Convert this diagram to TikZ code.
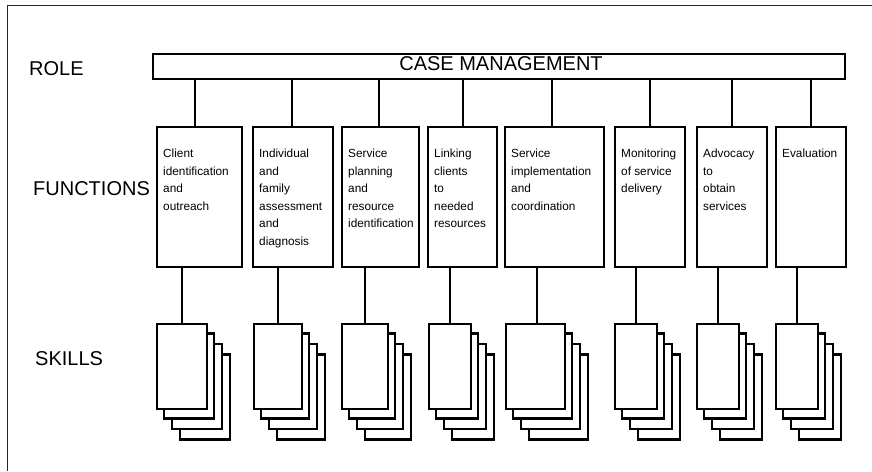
\documentclass[tikz,border=0pt]{standalone}
\usepackage{fontspec}
\setmainfont{Liberation Sans}
\begin{document}
\begin{tikzpicture}[x=1pt,y=-1pt]
\tikzset{
  frame/.style={line width=1pt, draw=black!85},
  rolebar/.style={draw, line width=2pt, minimum width=692pt, minimum height=25pt, inner sep=0pt, anchor=north west},
  funcbox/.style={draw, line width=2.2pt, minimum height=140pt, inner sep=0pt, anchor=north west},
  ftext/.style={anchor=north west, inner sep=0pt, align=left, font=\fontsize{11.8}{17.5}\selectfont},
  biglabel/.style={anchor=base west, inner sep=0pt, font=\fontsize{20}{24}\selectfont},
  card/.style={draw, fill=white, line width=2.1pt},
  cardfront/.style={card, minimum height=85pt, inner sep=0pt, anchor=north west},
  link/.style={line width=1.7pt},
}
\useasboundingbox (0,0) rectangle (872,471);
\draw[frame] (7,471) -- (7,5) -- (872,5);

\node[biglabel] (lrole) at (29,75) {ROLE};
\node[biglabel] (lfun) at (33,195) {FUNCTIONS};
\node[biglabel] (lsk) at (35,365) {SKILLS};

\node[rolebar] (role) at (152,53) {};
\node[biglabel, anchor=base] (cm) at (501,70) {CASE MANAGEMENT};

\foreach \i/\L/\R/\dx/\txt in {
 1/156/241/-4.5/{Client\\identification\\and\\outreach},
 2/252/332/-1/{Individual\\and\\family\\assessment\\and\\diagnosis},
 3/341/418/-1.5/{Service\\planning\\and\\resource\\identification},
 4/427/496/0.5/{Linking\\clients\\to\\needed\\resources},
 5/504/603/-2.5/{Service\\implementation\\and\\coordination},
 6/614/684/0/{Monitoring\\of service\\delivery},
 7/696/766/0/{Advocacy\\to\\obtain\\services},
 8/775/845/0/{Evaluation}}
{
 \pgfmathsetmacro\W{\R-\L}
 \node[funcbox, minimum width=\W pt] (f\i) at (\L,126) {};
 \node[ftext] (t\i) at ([xshift=7pt,yshift=-23pt]f\i.north west) {\txt};
 \draw[link] ([xshift=\dx pt]f\i.north) -- ([xshift=\dx pt]f\i.north |- role.south);
}

\foreach \i/\L/\W/\bx in {1/156/50/0, 2/253/48/0, 3/341/46/0, 4/428/42/0, 5/505/59/1.5, 6/614/42/0, 7/696/42/0, 8/775/42/0}
{
  \foreach \k in {3,2,1}{
    \draw[card] (\L+8*\k, 323+10.5*\k) rectangle ++(\W,85);
  }
  \node[cardfront, minimum width=\W pt] (s\i) at (\L,323) {};
  \draw[link] ([xshift=\bx pt]s\i.north) -- ([xshift=\bx pt]s\i.north |- f\i.south);
}
\end{tikzpicture}
\end{document}
